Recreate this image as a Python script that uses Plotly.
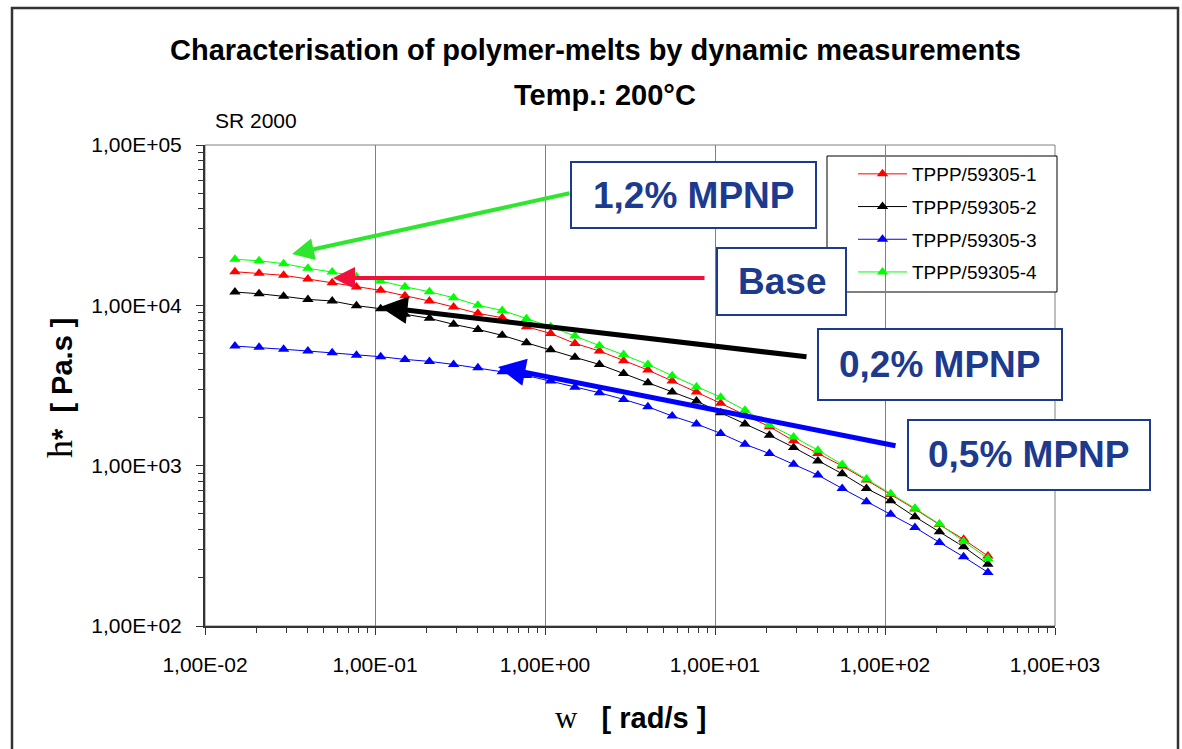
import plotly.graph_objects as go

# ---- data ----
omega = [0.0150, 0.0208, 0.0290, 0.0403, 0.0560, 0.0778, 0.108, 0.150,
         0.209, 0.290, 0.403, 0.560, 0.778, 1.08, 1.50, 2.09,
         2.90, 4.03, 5.60, 7.78, 10.8, 15.0, 20.9, 29.0,
         40.3, 56.0, 77.8, 108, 150, 209, 290, 403]

eta_1 = [16200, 15830, 15390, 14590, 13830, 13000, 12400, 11480,
         10640, 9760, 8910, 8370, 7360, 6670, 5790, 5190,
         4510, 3950, 3370, 2880, 2450, 2070, 1750, 1430,
         1190, 995, 813, 661, 536, 429, 347, 273]

eta_2 = [12100, 11810, 11380, 10890, 10640, 9950, 9530, 8790,
         8300, 7610, 7080, 6500, 5840, 5290, 4740, 4280,
         3760, 3290, 2880, 2530, 2140, 1820, 1550, 1300,
         1070, 890, 721, 604, 480, 387, 312, 243]

eta_3 = [5570, 5470, 5320, 5190, 5060, 4880, 4780, 4600,
         4470, 4280, 4080, 3850, 3650, 3370, 3080, 2850,
         2590, 2330, 2040, 1820, 1590, 1360, 1190, 1020,
         873, 721, 596, 497, 412, 332, 270, 216]

eta_4 = [19370, 18970, 18190, 17020, 16140, 15080, 14180, 13060,
         12150, 11150, 10000, 9300, 8250, 7360, 6430, 5600,
         4940, 4280, 3640, 3100, 2670, 2220, 1790, 1510,
         1250, 1016, 826, 668, 542, 432, 337, 264]

series_names = ["TPPP/59305-1", "TPPP/59305-2", "TPPP/59305-3", "TPPP/59305-4"]
series_values = [eta_1, eta_2, eta_3, eta_4]
series_colors = ["#FF0000", "#000000", "#0000FF", "#00FF00"]

x_tickvals = [0.01, 0.1, 1, 10, 100, 1000]
x_ticktext = ["1,00E-02", "1,00E-01", "1,00E+00", "1,00E+01", "1,00E+02", "1,00E+03"]
y_tickvals = [100, 1000, 10000, 100000]
y_ticktext = ["1,00E+02", "1,00E+03", "1,00E+04", "1,00E+05"]

x_minor = [m * 10.0 ** e for e in range(-2, 3) for m in range(2, 10)]
y_minor = [m * 10.0 ** e for e in range(2, 5) for m in range(2, 10)]

FONT = "Liberation Sans, Arial, sans-serif"
SERIF = "Liberation Serif, Times New Roman, serif"
BOXBLUE = "#1C3A8E"

fig = go.Figure()
for i, (name, vals, col) in enumerate(zip(series_names, series_values, series_colors)):
    fig.add_trace(go.Scatter(
        x=omega, y=vals, name=name, mode="lines+markers",
        line=dict(color=col, width=1),
        marker=dict(symbol="triangle-up", size=10, color=col),
        legendgroup="g%d" % i,
        hoverinfo="skip",
    ))

# pixel -> paper helpers for decorations (plot area 205..1055 x 145..626)
L, R, T, B = 205, 1055, 145, 626
def px(x):
    return (x - L) / (R - L)
def py(y):
    return (B - y) / (B - T)

shapes = []
# outer frame
shapes.append(dict(type="rect", xref="paper", yref="paper",
                   x0=px(12), x1=px(1178), y0=py(790), y1=py(8),
                   line=dict(color="#333333", width=2.5), layer="below"))
# plot-area frame
shapes.append(dict(type="rect", xref="paper", yref="paper",
                   x0=0, x1=1, y0=0, y1=1,
                   line=dict(color="#808080", width=1), layer="below"))
# legend frame
shapes.append(dict(type="rect", xref="paper", yref="paper",
                   x0=px(827), x1=px(1057), y0=py(292), y1=py(156),
                   line=dict(color="#000000", width=1), fillcolor="white", layer="below"))

annotations = []
# arrows: (head_x, head_y, tail_x, tail_y, color, width)
arrows = [
    (292, 254, 571, 193, "#2FE62F", 4),
    (333, 278, 706, 278, "#F0103C", 4),
    (380, 307, 808, 357, "#000000", 5),
    (498, 367, 897, 446, "#0000FF", 5),
]
for hx, hy, tx, ty, col, w in arrows:
    annotations.append(dict(
        xref="paper", yref="paper", x=px(hx), y=py(hy),
        ax=tx - hx, ay=ty - hy, axref="pixel", ayref="pixel",
        text="", showarrow=True, arrowhead=2, arrowsize=1.1,
        arrowwidth=w, arrowcolor=col, standoff=0, startstandoff=0))

# label boxes: (x0, y0, x1, y1, text)
boxes = [
    (571, 162, 816, 228, "1,2% MPNP"),
    (717, 248, 846, 315, "Base"),
    (818, 329, 1062, 400, "0,2% MPNP"),
    (908, 420, 1150, 490, "0,5% MPNP"),
]
for x0, y0, x1, y1, txt in boxes:
    shapes.append(dict(type="rect", xref="paper", yref="paper",
                       x0=px(x0), x1=px(x1), y0=py(y1), y1=py(y0),
                       line=dict(color=BOXBLUE, width=2), fillcolor="white",
                       layer="above"))
    annotations.append(dict(xref="paper", yref="paper",
                            x=px((x0 + x1) / 2), y=py((y0 + y1) / 2),
                            text="<b>%s</b>" % txt, showarrow=False,
                            font=dict(family=FONT, size=37, color=BOXBLUE),
                            xanchor="center", yanchor="middle"))

# title
annotations.append(dict(xref="paper", yref="paper", x=px(595), y=py(50),
                        text="<b>Characterisation of polymer-melts by dynamic measurements</b>",
                        showarrow=False, font=dict(family=FONT, size=29, color="black"),
                        xanchor="center", yanchor="middle"))
annotations.append(dict(xref="paper", yref="paper", x=px(605), y=py(95),
                        text="<b>Temp.: 200°C</b>",
                        showarrow=False, font=dict(family=FONT, size=29, color="black"),
                        xanchor="center", yanchor="middle"))
annotations.append(dict(xref="paper", yref="paper", x=px(213), y=py(120),
                        text="SR 2000", showarrow=False,
                        font=dict(family=FONT, size=21, color="black"),
                        xanchor="left", yanchor="middle"))
# axis titles
annotations.append(dict(xref="paper", yref="paper", x=px(630), y=py(717),
                        text="<span style='font-family:%s;font-size:31px'>w</span>"
                             "<b>   [ rad/s ]</b>" % SERIF,
                        showarrow=False, font=dict(family=FONT, size=29, color="black"),
                        xanchor="center", yanchor="middle"))
annotations.append(dict(xref="paper", yref="paper", x=px(60), y=py(388),
                        text="<span style='font-family:%s;font-size:36px'>h</span>"
                             "<b>*  [ Pa.s ]</b>" % SERIF,
                        showarrow=False, textangle=-90,
                        font=dict(family=FONT, size=29, color="black"),
                        xanchor="center", yanchor="middle"))

fig.update_layout(
    width=1182, height=749,
    margin=dict(l=L, r=1182 - R, t=T, b=749 - B),
    paper_bgcolor="white", plot_bgcolor="white",
    font=dict(family=FONT, size=21, color="black"),
    showlegend=True,
    legend=dict(x=px(853), y=py(155), xanchor="left", yanchor="top",
                bgcolor="rgba(0,0,0,0)", borderwidth=0,
                font=dict(family=FONT, size=19, color="black"),
                tracegroupgap=5, itemwidth=49),
    shapes=shapes, annotations=annotations,
    hovermode=False,
)
fig.update_xaxes(type="log", range=[-2, 3],
                 tickmode="array", tickvals=x_tickvals, ticktext=x_ticktext,
                 ticks="outside", ticklen=7, tickcolor="#333333",
                 ticklabelstandoff=12,
                 showline=True, linecolor="#333333", linewidth=2,
                 showgrid=True, gridcolor="#808080", gridwidth=1,
                 zeroline=False,
                 minor=dict(tickmode="array", tickvals=x_minor, ticks="outside",
                            ticklen=5, tickcolor="#333333", showgrid=False),
                 tickfont=dict(family=FONT, size=21, color="black"))
fig.update_yaxes(type="log", range=[2, 5],
                 tickmode="array", tickvals=y_tickvals, ticktext=y_ticktext,
                 ticks="outside", ticklen=7, tickcolor="#333333",
                 ticklabelstandoff=10,
                 showline=True, linecolor="#333333", linewidth=2,
                 showgrid=False, zeroline=False,
                 minor=dict(tickmode="array", tickvals=y_minor, ticks="outside",
                            ticklen=5, tickcolor="#333333", showgrid=False),
                 tickfont=dict(family=FONT, size=21, color="black"))

fig.write_html("out.html")
